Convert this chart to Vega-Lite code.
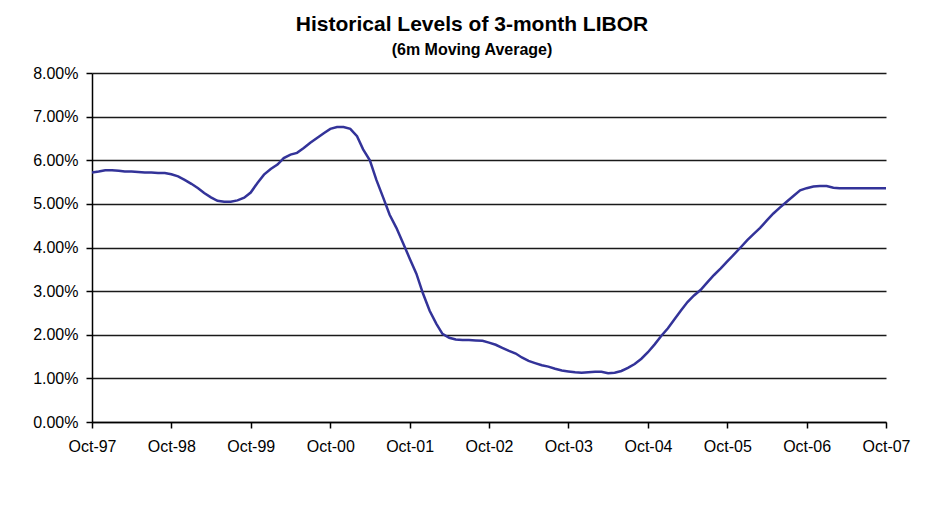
{
  "$schema": "https://vega.github.io/schema/vega-lite/v6.json",
  "width": 794,
  "height": 349,
  "autosize": {"type": "none"},
  "padding": {"left": 92, "top": 73, "right": 41, "bottom": 97},
  "background": "#ffffff",
  "title": {
    "text": "Historical Levels of 3-month LIBOR",
    "subtitle": "(6m Moving Average)",
    "font": "Liberation Sans",
    "fontSize": 21,
    "fontWeight": "bold",
    "color": "#000000",
    "subtitleFont": "Liberation Sans",
    "subtitleFontSize": 16,
    "subtitleFontWeight": "bold",
    "subtitleColor": "#000000",
    "subtitlePadding": 7,
    "anchor": "middle",
    "frame": "group",
    "dx": -17,
    "offset": 7
  },
  "config": {
    "view": {"stroke": null},
    "axis": {
      "labelFont": "Liberation Sans",
      "labelFontSize": 16,
      "labelColor": "#000000",
      "domainColor": "#000000",
      "domainWidth": 1.5,
      "tickColor": "#000000",
      "tickWidth": 1.5,
      "tickSize": 6
    }
  },
  "data": {
    "values": [
      {"date": "1997-10", "rate": 0.0572},
      {"date": "1997-11", "rate": 0.0574},
      {"date": "1997-12", "rate": 0.0577},
      {"date": "1998-01", "rate": 0.0577},
      {"date": "1998-02", "rate": 0.0576},
      {"date": "1998-03", "rate": 0.0574},
      {"date": "1998-04", "rate": 0.0574},
      {"date": "1998-05", "rate": 0.0573},
      {"date": "1998-06", "rate": 0.0572},
      {"date": "1998-07", "rate": 0.0572},
      {"date": "1998-08", "rate": 0.0571},
      {"date": "1998-09", "rate": 0.0571},
      {"date": "1998-10", "rate": 0.0568},
      {"date": "1998-11", "rate": 0.0563},
      {"date": "1998-12", "rate": 0.0555},
      {"date": "1999-01", "rate": 0.0546},
      {"date": "1999-02", "rate": 0.0536},
      {"date": "1999-03", "rate": 0.0525},
      {"date": "1999-04", "rate": 0.0515},
      {"date": "1999-05", "rate": 0.0507},
      {"date": "1999-06", "rate": 0.0505},
      {"date": "1999-07", "rate": 0.0505},
      {"date": "1999-08", "rate": 0.0508},
      {"date": "1999-09", "rate": 0.0514},
      {"date": "1999-10", "rate": 0.0526},
      {"date": "1999-11", "rate": 0.0548},
      {"date": "1999-12", "rate": 0.0567},
      {"date": "2000-01", "rate": 0.0580},
      {"date": "2000-02", "rate": 0.0590},
      {"date": "2000-03", "rate": 0.0605},
      {"date": "2000-04", "rate": 0.0613},
      {"date": "2000-05", "rate": 0.0617},
      {"date": "2000-06", "rate": 0.0628},
      {"date": "2000-07", "rate": 0.0640},
      {"date": "2000-08", "rate": 0.0651},
      {"date": "2000-09", "rate": 0.0662},
      {"date": "2000-10", "rate": 0.0672},
      {"date": "2000-11", "rate": 0.0676},
      {"date": "2000-12", "rate": 0.0676},
      {"date": "2001-01", "rate": 0.0672},
      {"date": "2001-02", "rate": 0.0655},
      {"date": "2001-03", "rate": 0.0625},
      {"date": "2001-04", "rate": 0.0600},
      {"date": "2001-05", "rate": 0.0555},
      {"date": "2001-06", "rate": 0.0515},
      {"date": "2001-07", "rate": 0.0475},
      {"date": "2001-08", "rate": 0.0445},
      {"date": "2001-09", "rate": 0.0410},
      {"date": "2001-10", "rate": 0.0375},
      {"date": "2001-11", "rate": 0.0340},
      {"date": "2001-12", "rate": 0.0295},
      {"date": "2002-01", "rate": 0.0255},
      {"date": "2002-02", "rate": 0.0225},
      {"date": "2002-03", "rate": 0.0202},
      {"date": "2002-04", "rate": 0.0193},
      {"date": "2002-05", "rate": 0.0189},
      {"date": "2002-06", "rate": 0.0188},
      {"date": "2002-07", "rate": 0.0188},
      {"date": "2002-08", "rate": 0.0187},
      {"date": "2002-09", "rate": 0.0186},
      {"date": "2002-10", "rate": 0.0182},
      {"date": "2002-11", "rate": 0.0177},
      {"date": "2002-12", "rate": 0.0170},
      {"date": "2003-01", "rate": 0.0163},
      {"date": "2003-02", "rate": 0.0157},
      {"date": "2003-03", "rate": 0.0148},
      {"date": "2003-04", "rate": 0.0140},
      {"date": "2003-05", "rate": 0.0135},
      {"date": "2003-06", "rate": 0.0130},
      {"date": "2003-07", "rate": 0.0127},
      {"date": "2003-08", "rate": 0.0122},
      {"date": "2003-09", "rate": 0.0118},
      {"date": "2003-10", "rate": 0.0116},
      {"date": "2003-11", "rate": 0.0114},
      {"date": "2003-12", "rate": 0.0113},
      {"date": "2004-01", "rate": 0.0114},
      {"date": "2004-02", "rate": 0.0115},
      {"date": "2004-03", "rate": 0.0115},
      {"date": "2004-04", "rate": 0.0112},
      {"date": "2004-05", "rate": 0.0113},
      {"date": "2004-06", "rate": 0.0117},
      {"date": "2004-07", "rate": 0.0124},
      {"date": "2004-08", "rate": 0.0133},
      {"date": "2004-09", "rate": 0.0145},
      {"date": "2004-10", "rate": 0.0160},
      {"date": "2004-11", "rate": 0.0178},
      {"date": "2004-12", "rate": 0.0197},
      {"date": "2005-01", "rate": 0.0215},
      {"date": "2005-02", "rate": 0.0236},
      {"date": "2005-03", "rate": 0.0255},
      {"date": "2005-04", "rate": 0.0275},
      {"date": "2005-05", "rate": 0.0290},
      {"date": "2005-06", "rate": 0.0303},
      {"date": "2005-07", "rate": 0.0320},
      {"date": "2005-08", "rate": 0.0337},
      {"date": "2005-09", "rate": 0.0352},
      {"date": "2005-10", "rate": 0.0368},
      {"date": "2005-11", "rate": 0.0384},
      {"date": "2005-12", "rate": 0.0400},
      {"date": "2006-01", "rate": 0.0417},
      {"date": "2006-02", "rate": 0.0432},
      {"date": "2006-03", "rate": 0.0445},
      {"date": "2006-04", "rate": 0.0462},
      {"date": "2006-05", "rate": 0.0478},
      {"date": "2006-06", "rate": 0.0492},
      {"date": "2006-07", "rate": 0.0505},
      {"date": "2006-08", "rate": 0.0518},
      {"date": "2006-09", "rate": 0.0531},
      {"date": "2006-10", "rate": 0.0536},
      {"date": "2006-11", "rate": 0.0540},
      {"date": "2006-12", "rate": 0.0541},
      {"date": "2007-01", "rate": 0.0541},
      {"date": "2007-02", "rate": 0.0537},
      {"date": "2007-03", "rate": 0.0536},
      {"date": "2007-04", "rate": 0.0536},
      {"date": "2007-05", "rate": 0.0536},
      {"date": "2007-06", "rate": 0.0536},
      {"date": "2007-07", "rate": 0.0536},
      {"date": "2007-08", "rate": 0.0536},
      {"date": "2007-09", "rate": 0.0536},
      {"date": "2007-10", "rate": 0.0536}
    ]
  },
  "mark": {"type": "line", "color": "#333399", "strokeWidth": 2.5, "clip": true},
  "encoding": {
    "x": {
      "field": "date",
      "type": "temporal",
      "timeUnit": "utcyearmonth",
      "title": null,
      "scale": {
        "domain": [
          {"year": 1997, "month": 10, "date": 1, "utc": true},
          {"year": 2007, "month": 10, "date": 1, "utc": true}
        ]
      },
      "axis": {
        "format": "%b-%y",
        "values": [
          {"year": 1997, "month": 10, "date": 1, "utc": true},
          {"year": 1998, "month": 10, "date": 1, "utc": true},
          {"year": 1999, "month": 10, "date": 1, "utc": true},
          {"year": 2000, "month": 10, "date": 1, "utc": true},
          {"year": 2001, "month": 10, "date": 1, "utc": true},
          {"year": 2002, "month": 10, "date": 1, "utc": true},
          {"year": 2003, "month": 10, "date": 1, "utc": true},
          {"year": 2004, "month": 10, "date": 1, "utc": true},
          {"year": 2005, "month": 10, "date": 1, "utc": true},
          {"year": 2006, "month": 10, "date": 1, "utc": true},
          {"year": 2007, "month": 10, "date": 1, "utc": true}
        ],
        "grid": false,
        "labelPadding": 10,
        "labelAngle": 0,
        "labelOverlap": false,
        "labelFlush": false
      }
    },
    "y": {
      "field": "rate",
      "type": "quantitative",
      "title": null,
      "scale": {"domain": [0, 0.08], "nice": false, "zero": true},
      "axis": {
        "values": [0, 0.01, 0.02, 0.03, 0.04, 0.05, 0.06, 0.07, 0.08],
        "format": ".2%",
        "grid": true,
        "gridColor": "#1a1a1a",
        "gridWidth": 1.5,
        "labelPadding": 8,
        "labelOverlap": false
      }
    }
  }
}
